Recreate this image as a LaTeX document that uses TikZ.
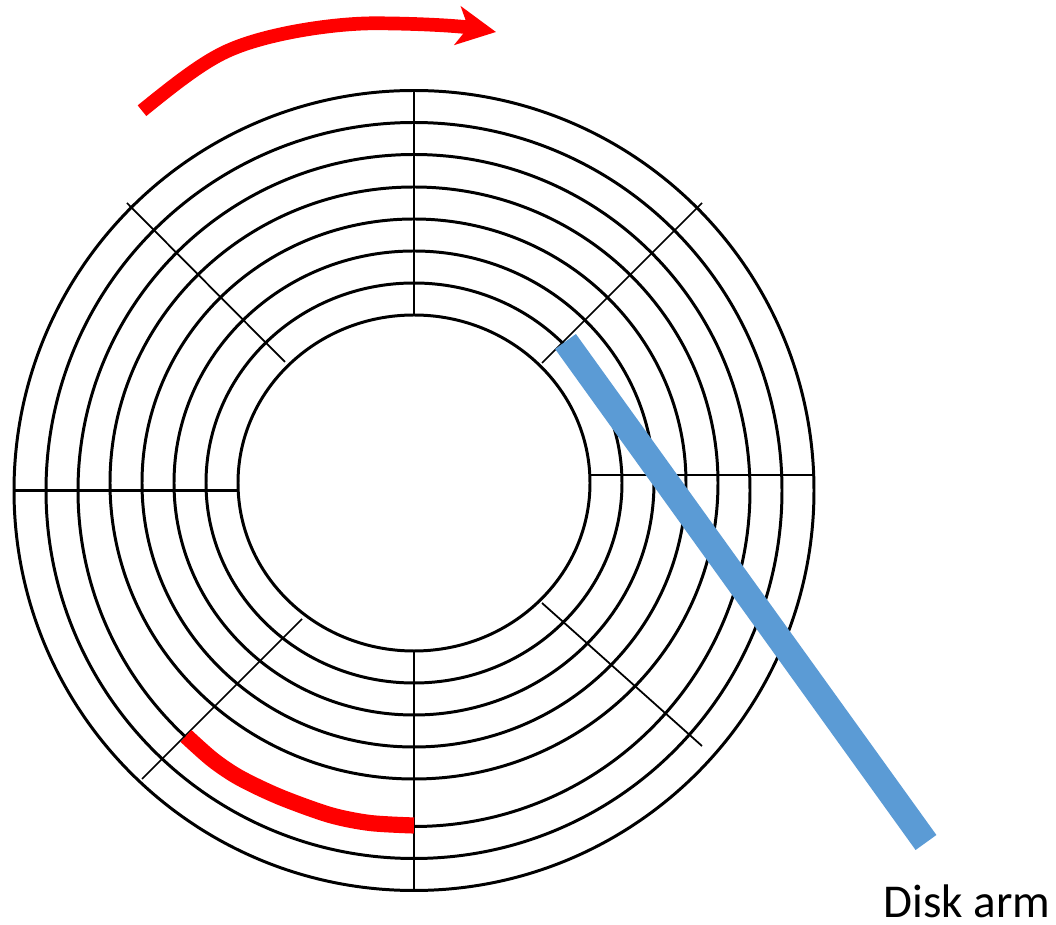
\documentclass[tikz,border=0pt]{standalone}
\usepackage{xcolor}
\usepackage{fontspec}
\setmainfont{Carlito}
\usepackage{tikz}
\usetikzlibrary{arrows.meta}
\definecolor{armblue}{HTML}{5B9BD5}
\definecolor{motionred}{HTML}{FF0000}

\begin{document}
\begin{tikzpicture}[x=0.02cm, y=-0.02cm]
  \useasboundingbox (0,0) rectangle (1056,925);
  % outer tracks
  \foreach \r in {336,368,400}
    \draw[line width=1.7pt] (414,490.5) circle (\r);
  % inner tracks
  \foreach \r in {176,208,240,272,304} {
    \pgfmathsetmacro{\ry}{\r-8}
    \draw[line width=1.7pt] (414,483) ellipse ({\r} and {\ry});
  }
  \foreach \xa/\ya/\xb/\yb in {414/91/414/315, 414/651/414/890, 14/490.5/238/490.5, 590/475/815/475}
    \draw[line width=1.2pt] (\xa,\ya) -- (\xb,\yb);
  \foreach \xa/\ya/\xb/\yb in {127/203/285/362, 702/203/542/363, 142/779/302/619, 702/746/542/603}
    \draw[line width=1pt] (\xa,\ya) -- (\xb,\yb);
  \draw[armblue, line width=14.6pt] (565.5,341.5) -- (926,842.5);
  \draw[motionred, line width=9.2pt] plot[smooth] coordinates {(186,736) (213,760) (240,778) (280,797) (330,815) (370,823) (414,825.5)};
  \draw[motionred, line width=7.8pt, -{Stealth[length=22pt, width=22pt, inset=6pt]}]
    (142,110.7) .. controls (175,84) and (205,60) .. (232,49)
    .. controls (270,33) and (335,23) .. (377,23.3)
    .. controls (420,23.5) and (460,26) .. (496,32);
  \node[anchor=base west, inner sep=0pt, font=\fontsize{26.8}{30}\selectfont] (armlabel) at (883,918) {Disk arm};
\end{tikzpicture}
\end{document}
